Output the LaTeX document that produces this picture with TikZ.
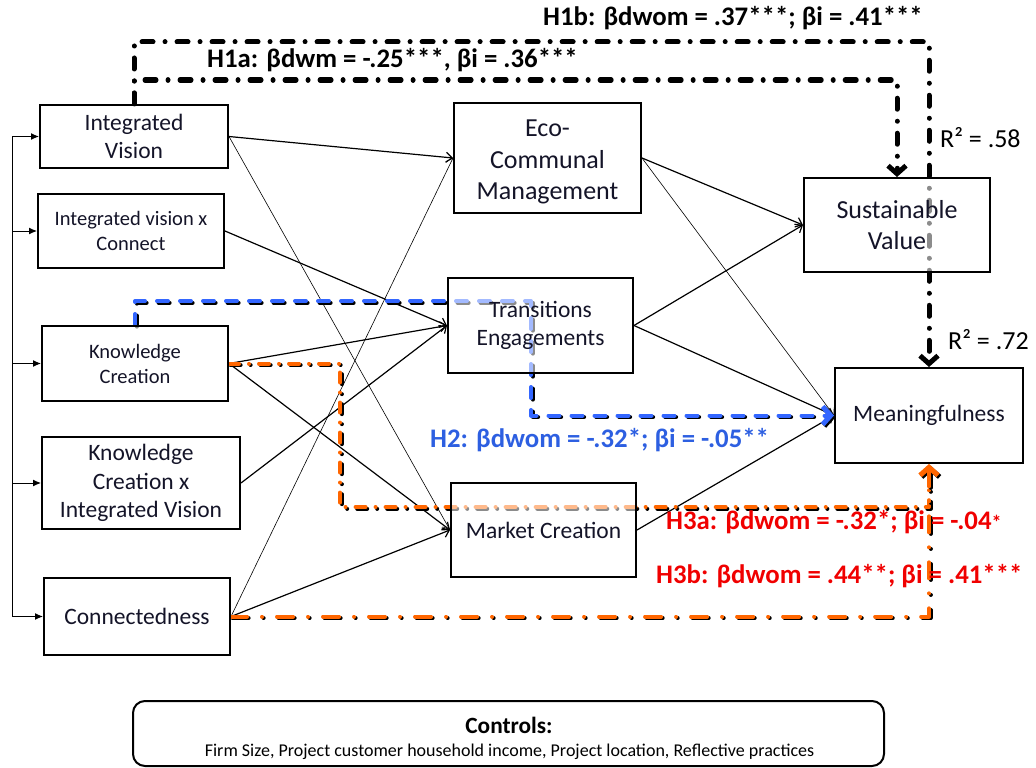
\documentclass[tikz,border=0pt]{standalone}
\usepackage{fontspec}
\setmainfont{Carlito}
\usetikzlibrary{arrows.meta}
\pgfdeclarelayer{bg}
\pgfsetlayers{bg,main}

\definecolor{pathblue}{RGB}{51,102,255}
\definecolor{labelblue}{RGB}{45,95,225}
\definecolor{pathorange}{RGB}{255,102,0}
\definecolor{labelred}{RGB}{240,0,0}
\definecolor{boxtext}{RGB}{20,20,40}

\begin{document}
\begin{tikzpicture}[x=1pt,y=-1pt,
  box/.style={draw=black, line width=2pt, fill=white, fill opacity=0.55,
    text opacity=1, inner sep=0pt, align=center, text=boxtext},
  fsmall/.style={font=\fontsize{20.5}{25}\selectfont},
  fmid/.style={font=\fontsize{23.5}{28.5}\selectfont},
  flarge/.style={font=\fontsize{26}{31.5}\selectfont},
  lbl/.style={font=\fontsize{26.8}{30}\selectfont\bfseries, inner sep=0pt, anchor=base west},
  rsq/.style={font=\fontsize{26}{30}\selectfont, inner sep=0pt, anchor=base west},
  link/.style={line width=1.2pt, -{Straight Barb[length=6pt,width=10pt]}},
  thinlink/.style={link, line width=0.6pt},
  ctrlarrow/.style={line width=1pt, -{Latex[length=8pt,width=7pt]}},
  bigtip/.style={-{Straight Barb[length=8pt,width=18pt,line width=5pt]}},
  hone/.style={line width=5pt, line cap=round, line join=round,
    dash pattern=on 11pt off 12pt on 0.01pt off 12pt, bigtip},
  htwo/.style={line width=4pt, line cap=round, line join=round,
    dash pattern=on 11pt off 12pt, bigtip},
  hthreea/.style={line width=4pt, line cap=round, line join=round,
    dash pattern=on 10pt off 10pt on 0.01pt off 10pt},
  hthreeb/.style={line width=4pt, line cap=round, line join=round,
    dash pattern=on 16pt off 15pt on 0.01pt off 15pt, bigtip},
  shadow/.style={draw=black, transform canvas={shift={(1.6pt,-1.6pt)}}},
]
\useasboundingbox (0,0) rectangle (1036,768);

% predictors
\node[box, fmid,   minimum width=188pt, minimum height=63pt] (iv)   at (134,136.5) {Integrated\\Vision};
\node[box, fsmall, minimum width=186pt, minimum height=74pt] (ivc)  at (131,231)   {Integrated vision x\\Connect};
\node[box, fsmall, minimum width=186pt, minimum height=75pt] (kc)   at (135,363.5) {Knowledge\\Creation};
\node[box, fmid,   minimum width=198pt, minimum height=92pt] (kciv) at (141,483)   {Knowledge\\Creation x\\Integrated Vision};
\node[box, fmid,   minimum width=186pt, minimum height=77pt] (conn) at (137,616.5) {Connectedness};

% mediators
\node[box, minimum width=187pt, minimum height=110pt] (ecm) at (547.5,158) {};
\node[flarge, align=center, inner sep=0pt, text=boxtext] (ecmtext) at (547.5,162) {Eco-\\Communal\\Management};
\node[box, fmid,   minimum width=185pt, minimum height=95pt]  (te)  at (540.5,325.5) {Transitions\\Engagements};
\node[box, fmid,   minimum width=185pt, minimum height=94pt]  (mc)  at (543.5,530) {Market Creation};

% outcomes
\node[box, flarge, minimum width=186pt, minimum height=94pt] (sv)   at (897,225)   {Sustainable\\Value};
\node[box, fmid,   minimum width=188pt, minimum height=95pt] (mean) at (929,415.5) {Meaningfulness};

% R-squared values
\node[rsq] (rsv)   at (940,147) {R² = .58};
\node[rsq] (rmean) at (948,349) {R² = .72};

% hypothesis labels
\node[lbl] (lhonea) at (207,67)  {H1a: βdwm = -.25***, βi = .36***};
\node[lbl] (lhoneb) at (543,26)  {H1b: βdwom = .37***; βi = .41***};
\node[lbl, text=labelblue] (lhtwo) at (430,447) {H2: βdwom = -.32*; βi = -.05**};
\node[lbl, text=labelred] (lhthreea) at (666,529) {H3a: βdwom = -.32*; βi = -.04{\fontsize{20}{20}\selectfont*}};
\node[lbl, text=labelred] (lhthreeb) at (656,583) {H3b: βdwom = .44**; βi = .41***};

% controls
\node[draw=black, line width=2pt, rounded corners=12pt, minimum width=751pt, minimum height=65pt, inner sep=0pt] (ctrl) at (508.5,733.5) {};
\node[font=\fontsize{23.3}{26}\selectfont\bfseries, anchor=base, inner sep=0pt] (ctrltitle) at (509,733) {Controls:};
\node[font=\fontsize{18}{20}\selectfont, anchor=base, inner sep=0pt] (ctrllist) at (509.5,756) {Firm Size, Project customer household income, Project location, Reflective practices};

% bracket of control arrows and path corners
\coordinate (btop) at (12,136.5);
\coordinate (bbot) at (12,616.5);
\coordinate (honeatop) at (0,80);
\coordinate (honebtop) at (0,42);
\coordinate (htwocorner) at (531,301);
\coordinate (hthreecorner) at (340,507);

\begin{pgfonlayer}{bg}
  \draw[line width=1pt] (btop) -- (bbot);
  \foreach \n in {iv,ivc,kc,kciv,conn}
    \draw[ctrlarrow] (btop |- \n.west) -- (\n.west);

  % structural paths
  \draw[link]     (iv.east)   -- (ecm.west);
  \draw[thinlink] (iv.east)   -- (mc.west);
  \draw[link]     (ivc.east)  -- (te.west);
  \draw[link]     (kc.east)   -- (te.west);
  \draw[link]     (kc.east)   -- (mc.west);
  \draw[link]     (kciv.east) -- (te.west);
  \draw[thinlink] (conn.east) -- (ecm.west);
  \draw[link]     (conn.east) -- (mc.west);
  \draw[link]     (ecm.east)  -- (sv.west);
  \draw[thinlink] (ecm.east)  -- (mean.west);
  \draw[link]     (te.east)   -- (sv.west);
  \draw[link]     (te.east)   -- (mean.west);
  \draw[link]     (mc.east)   -- (mean.west);

  % H1a and H1b
  \draw[hone] (iv.north) |- (honebtop -| mean.north) -- (mean.north);
  \draw[hone] (iv.north) |- (honeatop -| sv.north) -- (sv.north);

  % H2
  \draw[htwo, shadow] (kc.north) |- (htwocorner) -- (htwocorner |- mean.west) -- (mean.west);
  \draw[htwo, draw=pathblue] (kc.north) |- (htwocorner) -- (htwocorner |- mean.west) -- (mean.west);

  % H3a and H3b
  \draw[hthreea, shadow] (kc.east) -| (hthreecorner) -- (hthreecorner -| mean.south) -- (mean.south);
  \draw[hthreea, draw=pathorange] (kc.east) -| (hthreecorner) -- (hthreecorner -| mean.south) -- (mean.south);
  \draw[hthreeb, shadow] (conn.east) -| (mean.south);
  \draw[hthreeb, draw=pathorange] (conn.east) -| (mean.south);
\end{pgfonlayer}
\end{tikzpicture}
\end{document}
